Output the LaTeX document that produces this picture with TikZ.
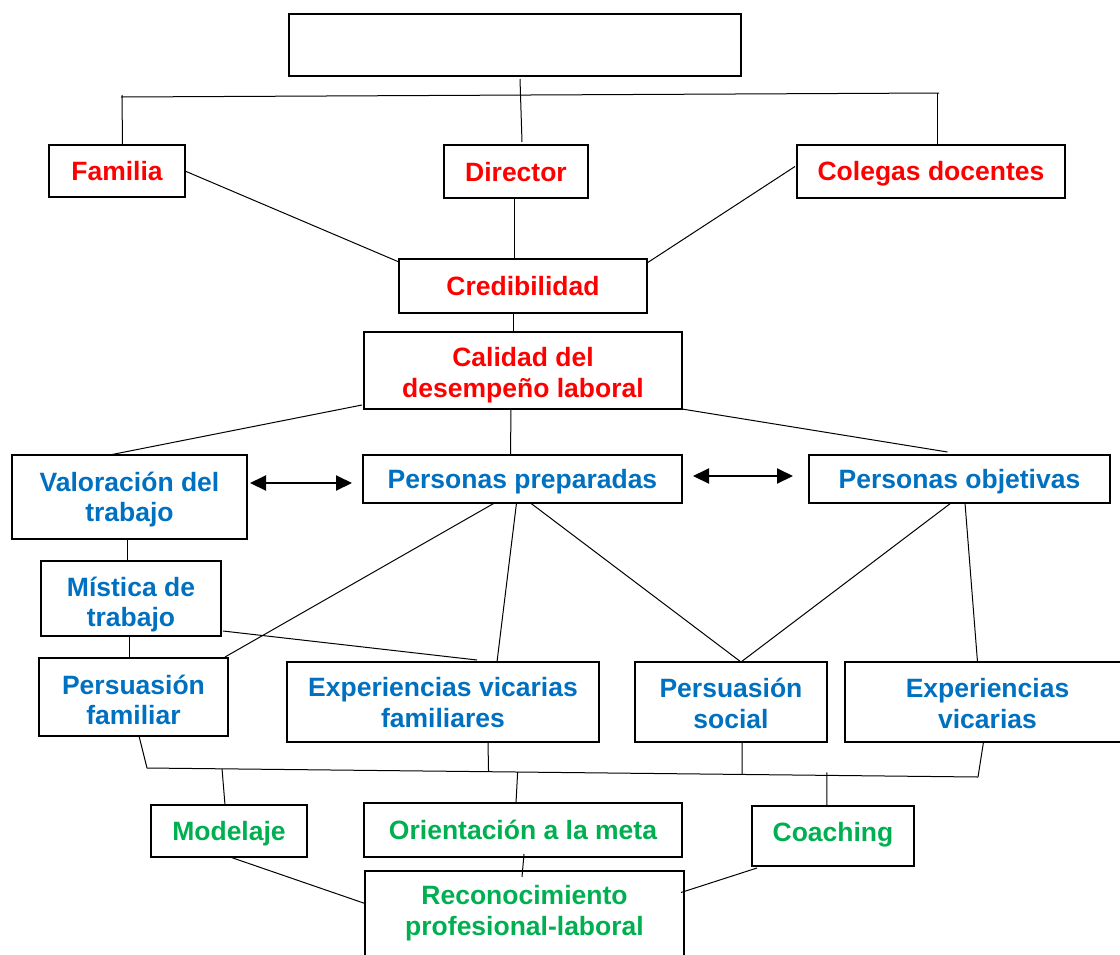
\documentclass[tikz,border=0pt]{standalone}
\usepackage{fontspec}
\setmainfont{Liberation Sans}
\usetikzlibrary{calc,arrows.meta}
\definecolor{rojo}{HTML}{FF0000}
\definecolor{azul}{HTML}{0070C0}
\definecolor{verde}{HTML}{00B050}
% box given by its corners: style, name, x1, y1, x2, y2, text
\newcommand\cajon[7]{%
  \node[#1, minimum width={#5-#3}, minimum height={#6-#4}] (#2)
    at ({(#3+#5)/2},{(#4+#6)/2}) {#7};}
% invisible strut that sets the height of a first line
\newcommand\alto[1]{\rule{0pt}{#1}}
\begin{document}
\begin{tikzpicture}[x=1pt,y=-1pt,
  caja/.style={draw, line width=1.3pt, inner sep=0pt, outer sep=0pt, align=center,
    font=\bfseries\fontsize{26.5}{30.5}\selectfont,
    execute at begin node={\rule{0pt}{24pt}},
    execute at end node={\rule[-5pt]{0pt}{5pt}}},
  % deeper last strut: text sits higher in its box
  sube/.style={execute at end node={\rule[-#1]{0pt}{#1}}},
  rojob/.style={caja, text=rojo},
  azulb/.style={caja, text=azul},
  verdeb/.style={caja, text=verde},
  abierta/.style={caja, draw=none, text=verde},
  enlace/.style={line width=1pt},
  doble/.style={line width=2pt, {Triangle[length=16pt,width=15pt]}-{Triangle[length=16pt,width=15pt]}}]
\useasboundingbox (0,0) rectangle (1120,954);
\clip (0,0) rectangle (1120,954);

% boxes
\cajon{caja}{top}{289}{14}{741}{76}{}
\cajon{rojob}{fam}{49}{145}{185}{197}{Familia}
\cajon{rojob}{dir}{444}{145}{588}{198}{Director}
\cajon{rojob}{col}{797}{145}{1065}{198}{Colegas docentes}
\cajon{rojob}{cred}{399}{259}{647}{313}{Credibilidad}
\cajon{rojob}{cal}{364}{332}{682}{409}{\alto{28pt}Calidad del\\desempeño laboral}
\cajon{azulb}{val}{12}{455}{247}{539}{\alto{24pt}Valoración del\\trabajo}
\cajon{azulb}{prep}{363}{455}{682}{503}{Personas preparadas}
\cajon{azulb}{obj}{809}{455}{1110}{503}{Personas objetivas}
\cajon{azulb}{mis}{41}{561}{221}{636}{\alto{31pt}Mística de\\trabajo}
\cajon{azulb}{pfam}{39}{658}{228}{736}{\alto{30pt}Persuasión\\familiar}
\cajon{azulb}{evf}{287}{662}{599}{742}{\alto{25pt}Experiencias vicarias\\familiares}
\cajon{azulb}{psoc}{635}{662}{827}{742}{\alto{27pt}Persuasión\\social}
\cajon{azulb}{evic}{845}{662}{1130}{742}{\alto{27pt}Experiencias\\vicarias}
\cajon{verdeb}{mod}{151}{805}{307}{857}{Modelaje}
\cajon{verdeb}{ori}{364}{803}{682}{857}{Orientación a la meta}
\cajon{verdeb,sube=13pt}{coach}{752}{806}{914}{866}{Coaching}
\cajon{abierta}{reco}{365}{871}{684}{950}{\alto{24pt}Reconocimiento\\profesional-laboral}
\draw[line width=1.3pt] ($(reco.south west)+(0,20)$) -- (reco.north west)
  -- (reco.north east) -- ($(reco.south east)+(0,20)$);

% upper bracket
\coordinate (tbl) at (121,97);
\coordinate (tbr) at (939,93);
\draw[enlace] (tbl) -- (tbr);
\draw[enlace] ($(tbl)+(1,-2)$) -- ($(fam.north)+(5.5,0)$);
\draw[enlace] ($(tbr)+(-2,0)$) -- ($(col.north)+(6,0)$);
\draw[enlace] ($(top.south)+(5,3)$) -- ($(dir.north)+(6,-3)$);

% towards credibility
\draw[enlace] (fam.east) -- ($(cred.north west)+(0,3)$);
\draw[enlace] ($(dir.south)+(-2,0)$) -- ($(dir.south |- cred.north)+(-2,0)$);
\draw[enlace] ($(col.west)+(-2,-5)$) -- ($(cred.north east)+(0,4)$);
\draw[enlace] ($(cred.south)+(-10,0)$) -- ($(cal.north)+(-10,0)$);

% quality of work
\draw[enlace] ($(cal.south west)+(-2,-4)$) -- ($(val.north)+(-20,0)$);
\draw[enlace] ($(cal.south)+(-12,0)$) -- ($(prep.north)+(-12,0)$);
\draw[enlace] (cal.south east) -- ($(obj.north)+(-12,-3)$);
\draw[doble] ($(prep.west -| val.east)+(3,4)$) -- ($(prep.west)+(-11,4)$);
\draw[doble] ($(prep.east)+(11,-3)$) -- ($(obj.west)+(-16,-3)$);

% left column
\draw[enlace] ($(val.south)+(-2.5,0)$) -- ($(mis.north)+(-4,0)$);
\draw[enlace] ($(mis.south)+(-2,0)$) -- ($(pfam.north)+(-4.5,0)$);

% sources of efficacy
\draw[enlace] ($(prep.south)+(-28,0)$) -- ($(pfam.north east)+(-3,-1)$);
\draw[enlace] ($(prep.south)+(-6,0)$) -- ($(evf.north)+(54,0)$);
\draw[enlace] ($(prep.south)+(8,0)$) -- ($(psoc.north)+(10,0)$);
\draw[enlace] ($(mis.south east)+(2,-5)$) -- ($(evf.north)+(34,-2)$);
\draw[enlace] ($(obj.south)+(-8.5,0)$) -- ($(psoc.north)+(10,0)$);
\draw[enlace] ($(obj.south)+(5.5,0)$) -- ($(evic.north)+(-10,0)$);

% lower bracket
\coordinate (bbl) at (147,768);
\coordinate (bbr) at (978,777);
\draw[enlace] (bbl) -- (bbr);
\draw[enlace] ($(pfam.south)+(5.5,0)$) -- (bbl);
\draw[enlace] (bbr) -- ($(evic.south)+(-4,0)$);
\draw[enlace] ($(evf.south)+(45,0)$) -- ($(bbl)!0.411!(bbr)$);
\draw[enlace] ($(psoc.south)+(11,0)$) -- ($(bbl)!0.716!(bbr)$);
\draw[enlace] ($(bbl)!0.0903!(bbr)$) -- ($(mod.north)+(-4,0)$);
\draw[enlace] ($(bbl)!0.446!(bbr)$) -- ($(ori.north)+(-7,0)$);
\draw[enlace] ($(bbl)!0.818!(bbr)+(0,-3)$) -- ($(coach.north)+(-6,0)$);

% recognition
\draw[enlace] ($(mod.south)+(1,0)$) -- ($(reco.west)+(0,-7)$);
\draw[enlace] ($(ori.south)+(1,-3)$) -- ($(reco.north)+(-2.5,6)$);
\draw[enlace] ($(coach.south west)+(5,2)$) -- ($(reco.east)+(-3,-18)$);
\end{tikzpicture}
\end{document}
